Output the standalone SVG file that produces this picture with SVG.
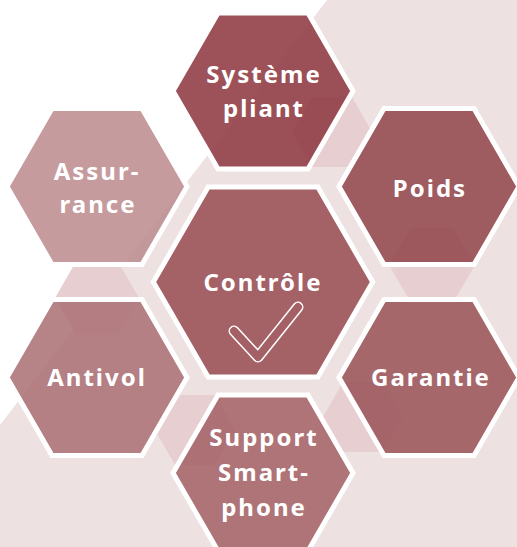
<svg xmlns="http://www.w3.org/2000/svg" width="517" height="547" viewBox="0 0 517 547">
  <style>
    .hex { stroke: #ffffff; stroke-width: 5; stroke-linejoin: miter; fill-opacity: 0.88; }
    .deco { fill: #e7cfd1; }
    .lbl { font-family: "Noto Sans", "Open Sans", sans-serif; font-weight: 700; font-size: 24px; fill: #ffffff; text-anchor: middle; letter-spacing: 2px; }
  </style>
  <rect x="0" y="0" width="517" height="547" fill="#ffffff"/>
  <g id="background">
    <polygon points="327,0 517,0 517,547 0,547 0,425" fill="#ede1e2"/>
    <polygon class="deco" points="139,298 118,334.4 76,334.4 55,298 76,261.6 118,261.6"/>
    <polygon class="deco" points="475,265 453.5,302 410.5,302 389,265 410.5,228 453.5,228"/>
    <polygon class="deco" points="403,417 383,452 343,452 323,417 343,382 383,382"/>
    <polygon class="deco" points="372,132 352,167 312,167 292,132 312,97 352,97"/>
    <polygon class="deco" points="235,430 215,465 175,465 155,430 175,395 215,395"/>
  </g>
  <g id="connectors"/>
  <g id="node-systeme">
    <polygon class="hex" fill="#8f3a42" points="353,91 308,169 218,169 173,91 218,13 308,13"/>
    <text class="lbl" x="264" y="83">Système</text>
    <text class="lbl" x="264" y="117">pliant</text>
  </g>
  <g id="node-assurance">
    <polygon class="hex" fill="#bd8d91" points="187,186.5 142,264.5 52,264.5 7,186.5 52,108.5 142,108.5"/>
    <text class="lbl" x="97" y="180">Assur-</text>
    <text class="lbl" x="98" y="213">rance</text>
  </g>
  <g id="node-poids">
    <polygon class="hex" fill="#93484d" points="519,186.5 474,264.5 384,264.5 339,186.5 384,108.5 474,108.5"/>
    <text class="lbl" x="430" y="197">Poids</text>
  </g>
  <g id="node-controle">
    <polygon class="hex" fill="#9a4e54" points="372.7,282 317.85,377 208.15,377 153.3,282 208.15,187 317.85,187"/>
    <text class="lbl" x="263" y="291">Contrôle</text>
    <path d="M234,331 L258,357 L298,307" fill="none" stroke="#ffffff" stroke-width="11" stroke-linecap="round" stroke-linejoin="round"/>
    <path d="M234,331 L258,357 L298,307" fill="none" stroke="#a46065" stroke-width="8" stroke-linecap="round" stroke-linejoin="round"/>
  </g>
  <g id="node-antivol">
    <polygon class="hex" fill="#ac7276" points="187,377.5 142,455.5 52,455.5 7,377.5 52,299.5 142,299.5"/>
    <text class="lbl" x="97" y="386">Antivol</text>
  </g>
  <g id="node-garantie">
    <polygon class="hex" fill="#9c555a" points="519,377.5 474,455.5 384,455.5 339,377.5 384,299.5 474,299.5"/>
    <text class="lbl" x="431" y="386">Garantie</text>
  </g>
  <g id="node-support">
    <polygon class="hex" fill="#a56468" points="353,473 308,551 218,551 173,473 218,395 308,395"/>
    <text class="lbl" x="264" y="446">Support</text>
    <text class="lbl" x="264" y="481">Smart-</text>
    <text class="lbl" x="264" y="516">phone</text>
  </g>
</svg>
